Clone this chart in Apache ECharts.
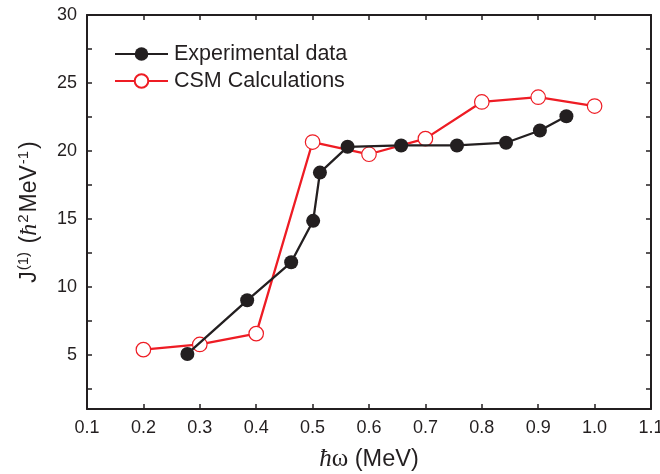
<!DOCTYPE html>
<html>
<head>
<meta charset="utf-8">
<script src="https://cdn.jsdelivr.net/npm/echarts@6/dist/echarts.min.js"></script>
<style>html,body{margin:0;padding:0;background:#fff;}#c{width:660px;height:474px;}</style>
</head>
<body>
<div id="c"></div>
<script>
var expX = [0.278, 0.384, 0.462, 0.501, 0.513, 0.562, 0.657, 0.756, 0.843, 0.903, 0.950];
var expY = [5.05, 9.0, 11.8, 14.85, 18.4, 20.3, 20.4, 20.4, 20.6, 21.5, 22.55];
var csmX = [0.2, 0.3, 0.4, 0.5, 0.6, 0.7, 0.8, 0.9, 1.0];
var csmY = [5.37, 5.75, 6.55, 20.65, 19.75, 20.9, 23.6, 23.95, 23.3];
var xTicks = [0.1, 0.2, 0.3, 0.4, 0.5, 0.6, 0.7, 0.8, 0.9, 1.0, 1.1];
var yLabels = [5, 10, 15, 20, 25, 30];
var yTicks = [2.5, 5, 7.5, 10, 12.5, 15, 17.5, 20, 22.5, 25, 27.5, 30];

var C = '#231f20';
var F = 'Liberation Sans, Arial, sans-serif';
function pairs(xs, ys) { return xs.map(function (x, i) { return [x, ys[i]]; }); }

var axisLine = { show: true, onZero: false, lineStyle: { color: C, width: 2 } };
var tick = { show: true, inside: true, length: 5, lineStyle: { color: C, width: 1.5 } };

var chart = echarts.init(document.getElementById('c'));
chart.setOption({
  backgroundColor: '#fff',
  animation: false,
  grid: { left: 87, right: 9, top: 15, bottom: 65, outerBoundsMode: 'none', containLabel: false },
  legend: {
    left: 109, top: 38, orient: 'vertical', itemGap: 5,
    itemWidth: 53, itemHeight: 17,
    textStyle: { fontFamily: F, fontSize: 21.5, color: C, padding: [0, 0, 0, 1] },
    data: ['Experimental data', 'CSM Calculations']
  },
  xAxis: [{
    type: 'value', min: 0.1, max: 1.1,
    axisLine: axisLine,
    axisTick: Object.assign({ customValues: xTicks }, tick),
    axisLabel: { customValues: xTicks, formatter: function (v) { return v.toFixed(1); },
      fontFamily: F, fontSize: 18, color: C, margin: 10 },
    splitLine: { show: false },
    name: '{i|ħ}{w|ω} (MeV)', nameLocation: 'middle', nameGap: 38,
    nameTextStyle: { fontFamily: F, fontSize: 23.5, color: C,
      rich: {
        i: { fontFamily: 'Liberation Serif, serif', fontStyle: 'italic', fontSize: 25, color: C },
        w: { fontFamily: 'Liberation Serif, serif', fontSize: 25, color: C }
      } }
  }, {
    type: 'value', min: 0.1, max: 1.1, position: 'top',
    axisLine: axisLine,
    axisTick: Object.assign({ customValues: xTicks }, tick),
    axisLabel: { show: false }, splitLine: { show: false }
  }],
  yAxis: [{
    type: 'value', min: 1, max: 30,
    axisLine: axisLine,
    axisTick: Object.assign({ customValues: yTicks }, tick),
    axisLabel: { customValues: yLabels, fontFamily: F, fontSize: 18, color: C, margin: 10 },
    splitLine: { show: false },
    name: 'J{sup|(1)} ({i|ħ}{sup|2}MeV{sup|-1})', nameLocation: 'middle', nameGap: 44,
    nameTextStyle: { fontFamily: F, fontSize: 23, color: C,
      rich: {
        sup: { fontFamily: F, fontSize: 15, color: C, verticalAlign: 'top', padding: [0, 2, 12, 1] },
        i: { fontFamily: 'Liberation Serif, serif', fontStyle: 'italic', fontSize: 24, color: C }
      } }
  }, {
    type: 'value', min: 1, max: 30, position: 'right',
    axisLine: axisLine,
    axisTick: Object.assign({ customValues: yTicks }, tick),
    axisLabel: { show: false }, splitLine: { show: false }
  }],
  series: [{
    name: 'CSM Calculations', type: 'line', data: pairs(csmX, csmY),
    symbol: 'circle', symbolSize: 14.5,
    lineStyle: { color: '#ee1c24', width: 2.3 },
    itemStyle: { color: '#fff', borderColor: '#ee1c24', borderWidth: 1.2 },
    z: 2
  }, {
    name: 'Experimental data', type: 'line', data: pairs(expX, expY),
    symbol: 'circle', symbolSize: 14,
    lineStyle: { color: C, width: 2.3 },
    itemStyle: { color: C, borderColor: C, borderWidth: 0 },
    z: 3
  }]
});
</script>
</body>
</html>
